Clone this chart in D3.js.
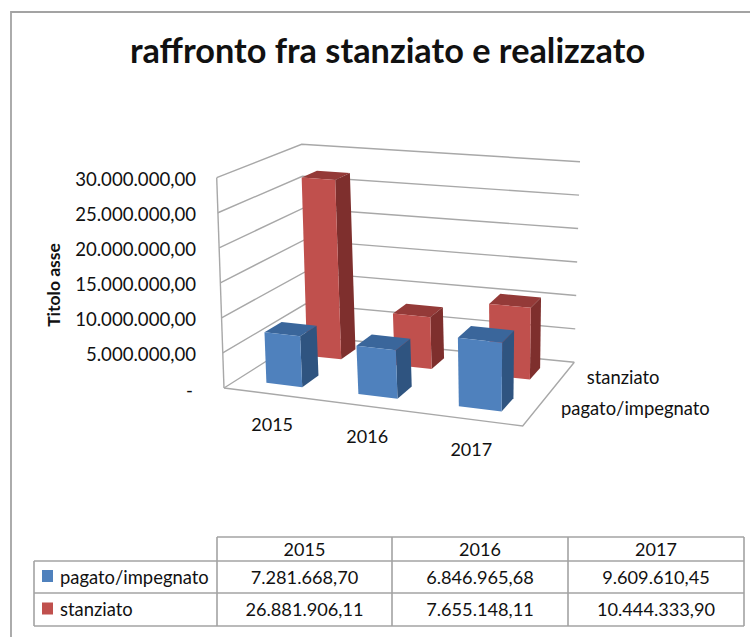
<!DOCTYPE html>
<html>
<head>
<meta charset="utf-8">
<script src="https://cdnjs.cloudflare.com/ajax/libs/d3/7.8.5/d3.min.js"></script>
<style>
  body { margin: 0; background: #fff; }
  text { font-family: Lato, "Open Sans", sans-serif; fill: #111; }
</style>
</head>
<body>
<div id="chart"></div>
<script>
// chart data
var years = ["2015", "2016", "2017"];
var seriesNames = ["pagato/impegnato", "stanziato"];
var pagato = [7281668.70, 6846965.68, 9609610.45];
var stanziato = [26881906.11, 7655148.11, 10444333.90];
var valueTicks = [0, 5000000, 10000000, 15000000, 20000000, 25000000, 30000000];
var tickLabels = ["-", "5.000.000,00", "10.000.000,00", "15.000.000,00", "20.000.000,00", "25.000.000,00", "30.000.000,00"];
var pagatoLabels = ["7.281.668,70", "6.846.965,68", "9.609.610,45"];
var stanziatoLabels = ["26.881.906,11", "7.655.148,11", "10.444.333,90"];

var svgWidth = 750;
var svgHeight = 637;

var svg = d3.select("#chart")
  .append("svg")
  .attr("width", svgWidth)
  .attr("height", svgHeight)
  .style("display", "block");

// outer frame, only top and left are in the crop
svg.append("path")
  .attr("d", "M11,637V12H750")
  .attr("fill", "none")
  .attr("stroke", "#a3a3a3")
  .attr("stroke-width", 1.8);

svg.append("text")
  .attr("x", 387.5).attr("y", 63)
  .attr("text-anchor", "middle")
  .attr("font-size", 34.3)
  .attr("font-weight", 700)
  .text("raffronto fra stanziato e realizzato");

// homography from the unit square to a quad (corners: 00, 10, 11, 01)
function quadMap(q) {
  var dx1 = q[1][0] - q[2][0], dx2 = q[3][0] - q[2][0], sx = q[0][0] - q[1][0] + q[2][0] - q[3][0];
  var dy1 = q[1][1] - q[2][1], dy2 = q[3][1] - q[2][1], sy = q[0][1] - q[1][1] + q[2][1] - q[3][1];
  var den = dx1 * dy2 - dx2 * dy1;
  var g = (sx * dy2 - dx2 * sy) / den;
  var h = (dx1 * sy - sx * dy1) / den;
  return function(u, v) {
    var w = g * u + h * v + 1;
    return [
      ((q[1][0] - q[0][0] + g * q[1][0]) * u + (q[3][0] - q[0][0] + h * q[3][0]) * v + q[0][0]) / w,
      ((q[1][1] - q[0][1] + g * q[1][1]) * u + (q[3][1] - q[0][1] + h * q[3][1]) * v + q[0][1]) / w
    ];
  };
}

var floorMap = quadMap([[224, 388], [522.7, 426], [574.3, 362.3], [306, 336]]);
var topMap = quadMap([[216.7, 177.7], [528, 207.4], [580, 161.7], [301.7, 144.3]]);

// u along the years, v along the depth, value upwards
var yScale = d3.scaleLinear().domain([0, 30000000]).range([0, 1]);
var xBand = d3.scaleBand().domain(years).range([0.01, 1.01]).paddingInner(0.6).paddingOuter(0.3);
var zBand = d3.scaleBand().domain(seriesNames).range([0, 1]).paddingInner(0.6).paddingOuter(0.3);

function project(u, v, value) {
  var a = floorMap(u, v), b = topMap(u, v), t = yScale(value);
  return [a[0] + (b[0] - a[0]) * t, a[1] + (b[1] - a[1]) * t];
}

var line = d3.line();
var gridColor = "#a8a8a8";

// walls
var walls = svg.append("g")
  .attr("fill", "none")
  .attr("stroke", gridColor)
  .attr("stroke-width", 1.4);

valueTicks.forEach(function(t) {
  walls.append("path")
    .attr("d", line([project(0, 0, t), project(0, 1, t), project(1, 1, t)]));
});
walls.append("path").attr("d", line([project(0, 0, 0), project(0, 0, 30000000)]));
walls.append("path").attr("d", line([project(0, 0, 0), project(1, 0, 0), project(1, 1, 0)]));

// tick labels
svg.append("g").selectAll("text")
  .data(valueTicks)
  .enter()
  .append("text")
  .attr("x", (d, i) => i == 0 ? 193 : 196)
  .attr("y", d => project(0, 0, d)[1] + 8.5)
  .attr("text-anchor", "end")
  .attr("font-size", 18.6)
  .text((d, i) => tickLabels[i]);

svg.append("text")
  .attr("transform", "translate(60,285) rotate(-90)")
  .attr("text-anchor", "middle")
  .attr("font-size", 17.5)
  .attr("font-weight", 700)
  .text("Titolo asse");

// year labels in front of the floor
svg.append("g").selectAll("text")
  .data(years)
  .enter()
  .append("text")
  .attr("x", d => project(xBand(d) + xBand.bandwidth() / 2, 0, 0)[0] + 1)
  .attr("y", d => project(xBand(d) + xBand.bandwidth() / 2, 0, 0)[1] + 37)
  .attr("text-anchor", "middle")
  .attr("font-size", 18)
  .text(d => d);

// series labels right of the floor
svg.append("g").selectAll("text")
  .data(seriesNames)
  .enter()
  .append("text")
  .attr("x", d => project(1, zBand(d) + zBand.bandwidth() / 2, 0)[0] + 24)
  .attr("y", d => project(1, zBand(d) + zBand.bandwidth() / 2, 0)[1] + 7)
  .attr("font-size", 18.4)
  .text(d => d);

// bars, back row first
var palette = {
  "pagato/impegnato": { front: "#4f81bd", side: "#2f5480", top: "#3a669b" },
  "stanziato": { front: "#c0504d", side: "#7e2f2d", top: "#943a38" }
};

function drawBars(name, values) {
  var colors = palette[name];
  var v0 = zBand(name), v1 = v0 + zBand.bandwidth();
  var g = svg.append("g").attr("stroke", "none");
  years.forEach(function(year, i) {
    var u0 = xBand(year), u1 = u0 + xBand.bandwidth(), val = values[i];
    g.append("path").attr("fill", colors.top)
      .attr("d", line([project(u0, v0, val), project(u1, v0, val), project(u1, v1, val), project(u0, v1, val)]) + "Z");
    g.append("path").attr("fill", colors.side)
      .attr("d", line([project(u1, v0, 0), project(u1, v1, 0), project(u1, v1, val), project(u1, v0, val)]) + "Z");
    g.append("path").attr("fill", colors.front)
      .attr("d", line([project(u0, v0, 0), project(u1, v0, 0), project(u1, v0, val), project(u0, v0, val)]) + "Z");
  });
}
drawBars("stanziato", stanziato);
drawBars("pagato/impegnato", pagato);

// data table below the plot
var colEdges = [34, 217, 392, 568, 744];
var rowEdges = [537, 561, 593, 626];
var tableRows = [
  { name: seriesNames[0], labels: pagatoLabels, color: palette[seriesNames[0]].front },
  { name: seriesNames[1], labels: stanziatoLabels, color: palette[seriesNames[1]].front }
];

var table = svg.append("g");
var tableLines = table.append("g")
  .attr("stroke", "#a3a3a3")
  .attr("stroke-width", 1.6);

colEdges.forEach(function(x, i) {
  tableLines.append("line")
    .attr("x1", x).attr("x2", x)
    .attr("y1", i == 0 ? rowEdges[1] : rowEdges[0])
    .attr("y2", rowEdges[3]);
});
rowEdges.forEach(function(y, i) {
  tableLines.append("line")
    .attr("x1", i == 0 ? colEdges[1] : colEdges[0]).attr("x2", colEdges[4])
    .attr("y1", y).attr("y2", y);
});

years.forEach(function(year, i) {
  table.append("text")
    .attr("x", (colEdges[i + 1] + colEdges[i + 2]) / 2)
    .attr("y", (rowEdges[0] + rowEdges[1]) / 2 + 6.5)
    .attr("text-anchor", "middle")
    .attr("font-size", 18)
    .text(year);
});

tableRows.forEach(function(row, r) {
  var mid = (rowEdges[r + 1] + rowEdges[r + 2]) / 2;
  table.append("rect")
    .attr("x", 42).attr("y", mid - 7)
    .attr("width", 11).attr("height", 12)
    .attr("fill", row.color);
  table.append("text")
    .attr("x", 60).attr("y", mid + 6.5)
    .attr("font-size", 18.4)
    .text(row.name);
  row.labels.forEach(function(label, i) {
    table.append("text")
      .attr("x", (colEdges[i + 1] + colEdges[i + 2]) / 2)
      .attr("y", mid + 6.5)
      .attr("text-anchor", "middle")
      .attr("font-size", 18.2)
      .text(label);
  });
});
</script>
</body>
</html>
